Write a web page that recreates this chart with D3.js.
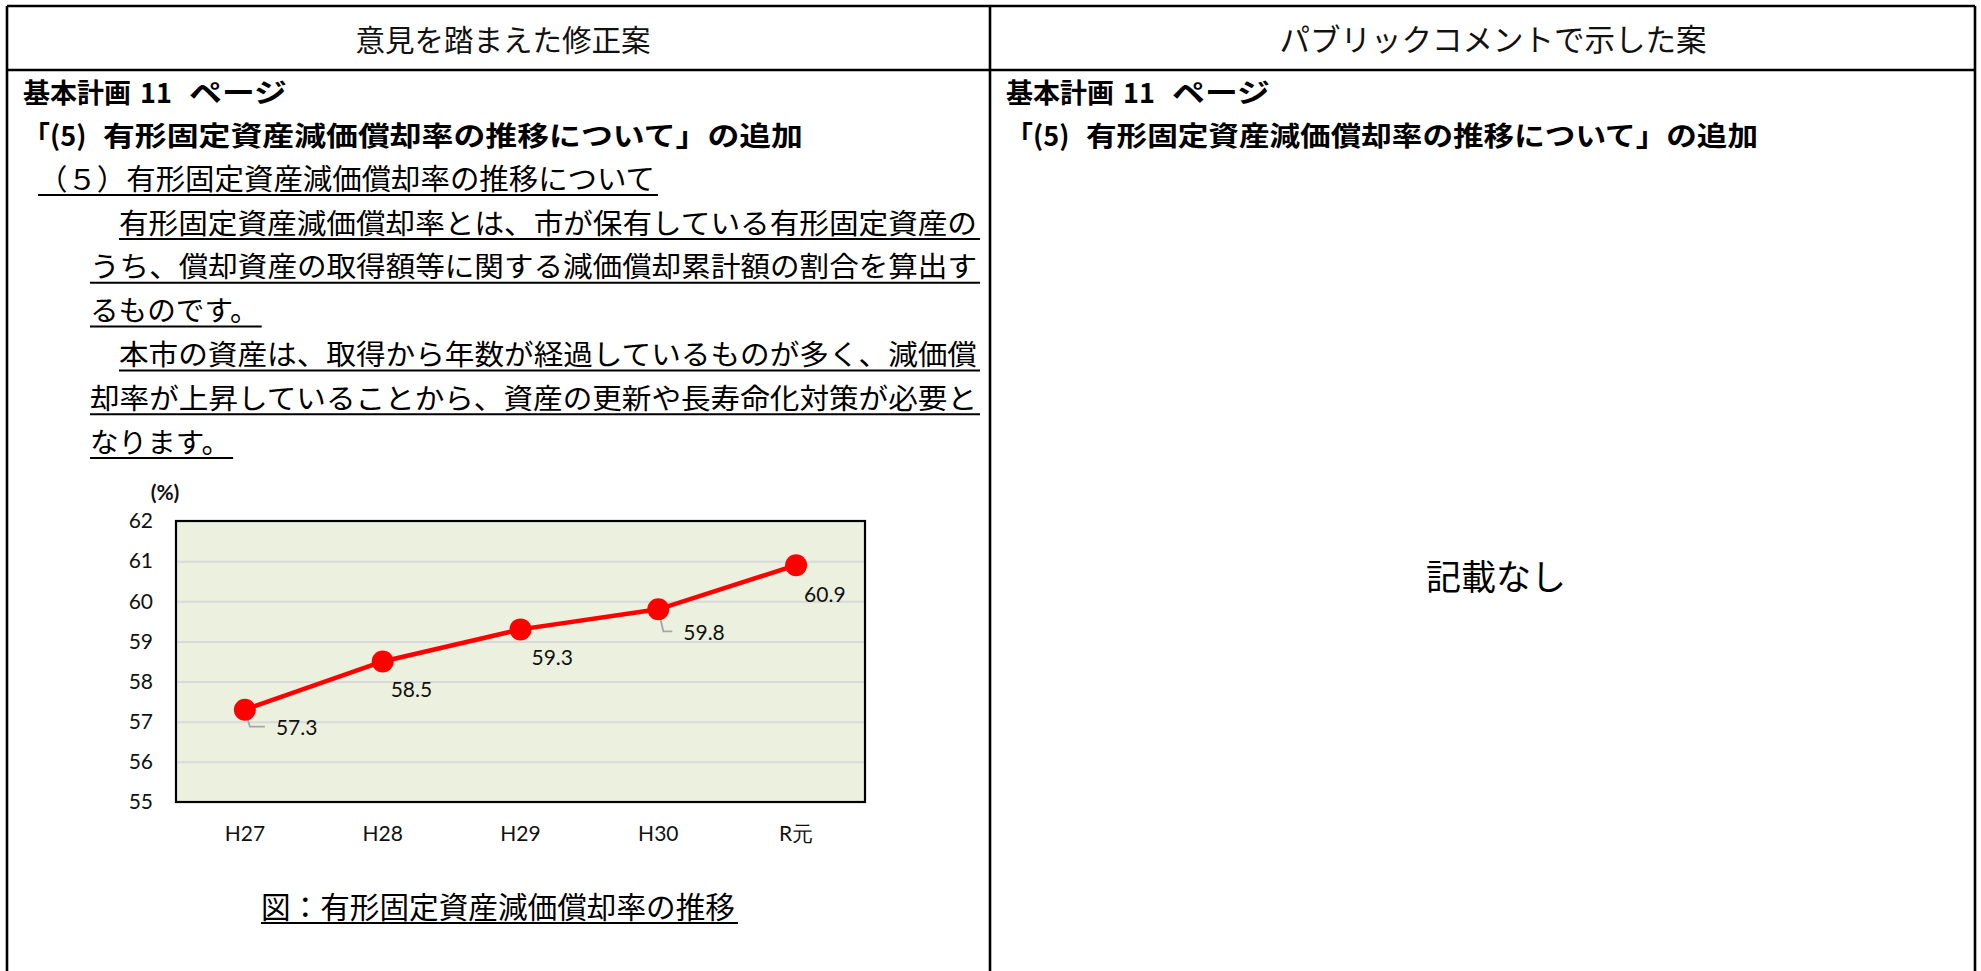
<!DOCTYPE html>
<html><head><meta charset="utf-8">
<script src="https://cdn.jsdelivr.net/npm/d3@7/dist/d3.min.js"></script>
<style>
html,body{margin:0;padding:0;background:#fff;}
svg{display:block;}
</style></head>
<body>
<svg id="c" width="1981" height="971"></svg>
<script>
// ---- data ----
const categories = ["H27", "H28", "H29", "H30", "R元"];
const rateValues = [57.3, 58.5, 59.3, 59.8, 60.9];
const yTicks = [55, 56, 57, 58, 59, 60, 61, 62];
const yUnit = "(%)";
const headerLeft = "意見を踏まえた修正案";
const headerRight = "パブリックコメントで示した案";
const pageRef = ["基本計画", "11", "ページ"];
const addTitle = ["「", "(5)", "有形固定資産減価償却率の推移について」の追加"];
const sectionTitle = "（５）有形固定資産減価償却率の推移について";
const paragraphLines = [
  "有形固定資産減価償却率とは、市が保有している有形固定資産の",
  "うち、償却資産の取得額等に関する減価償却累計額の割合を算出す",
  "るものです。",
  "本市の資産は、取得から年数が経過しているものが多く、減価償",
  "却率が上昇していることから、資産の更新や長寿命化対策が必要と",
  "なります。"
];
const paragraphIndent = [true, false, false, true, false, false];
const caption = "図：有形固定資産減価償却率の推移";
const noEntry = "記載なし";
// label placement offsets (relative to each point), Excel-like manual labels
const labelOffsets = [[31, 17, true], [8, 27, false], [11, 27, false], [25, 22, true], [8, 28, false]];

// ---- drawing ----
const svg = d3.select("#c");
const JP = "'Noto Sans CJK JP', sans-serif";
const NUM = "Lato, 'Noto Sans', sans-serif";

svg.append("rect").attr("width", 1981).attr("height", 971).attr("fill", "#fff");

// table frame
const L = 7, R = 1975, T = 6, HB = 70, MID = 990;
const frame = svg.append("g").attr("stroke", "#000").attr("stroke-width", 2.6);
frame.append("line").attr("x1", L).attr("x2", R).attr("y1", T).attr("y2", T);
frame.append("line").attr("x1", L).attr("x2", R).attr("y1", HB).attr("y2", HB);
frame.append("line").attr("x1", L).attr("x2", L).attr("y1", T).attr("y2", 971);
frame.append("line").attr("x1", R).attr("x2", R).attr("y1", T).attr("y2", 971);
frame.append("line").attr("x1", MID).attr("x2", MID).attr("y1", T).attr("y2", 971);

// headers
svg.append("text").attr("x", 503).attr("y", 38).attr("text-anchor", "middle")
  .attr("dominant-baseline", "central").attr("font-family", JP).attr("font-size", 29.5)
  .attr("fill", "#111").text(headerLeft);
svg.append("text").attr("x", 1493).attr("y", 38).attr("text-anchor", "middle")
  .attr("dominant-baseline", "central").attr("font-family", JP).attr("font-size", 30.5)
  .attr("fill", "#111").text(headerRight);

// bold headings in both columns
function headings(x0, titleLen) {
  const g = svg.append("g").attr("font-family", JP).attr("font-weight", "bold")
    .attr("fill", "#000").attr("dominant-baseline", "central");
  g.append("text").attr("x", x0).attr("y", 91).attr("font-size", 27).text(pageRef[0]);
  g.append("text").attr("x", x0 + 117).attr("y", 91).attr("font-size", 27).text(pageRef[1]);
  g.append("text").attr("x", x0 + 166).attr("y", 91).attr("font-size", 27)
    .attr("textLength", 98).attr("lengthAdjust", "spacingAndGlyphs").text(pageRef[2]);
  g.append("text").attr("x", x0).attr("y", 134).attr("font-size", 27).text(addTitle[0]);
  g.append("text").attr("x", x0 + 27).attr("y", 134).attr("font-size", 27).text(addTitle[1]);
  g.append("text").attr("x", x0 + 80).attr("y", 134).attr("font-size", 27)
    .attr("textLength", titleLen).attr("lengthAdjust", "spacingAndGlyphs").text(addTitle[2]);
}
headings(23, 700);
headings(1006, 672);

// section title + paragraph (underlined)
const body = svg.append("g").attr("font-family", JP).attr("fill", "#000");
function underlined(txt, x, y, size, len) {
  const t = body.append("text").attr("x", x).attr("y", y).attr("font-size", size)
    .attr("dominant-baseline", "central").text(txt);
  if (len) t.attr("textLength", len).attr("lengthAdjust", "spacingAndGlyphs");
  const w = t.node().getComputedTextLength();
  body.append("line").attr("x1", x).attr("x2", x + (len || w) + 3)
    .attr("y1", y + 18).attr("y2", y + 18).attr("stroke", "#000").attr("stroke-width", 2);
}
underlined(sectionTitle, 38, 177, 29, 617);
paragraphLines.forEach((s, i) => {
  const x = paragraphIndent[i] ? 119 : 90;
  const y = 221 + i * 43.8;
  const full = (i === 0 || i === 3) ? 858 : (i === 1 || i === 4) ? 887 : null;
  underlined(s, x, y, 28.6, full);
});

// ---- chart ----
const plot = {left: 176, right: 865, top: 521, bottom: 802};
const x = d3.scaleBand().domain(categories).range([plot.left, plot.right]).padding(0);
const y = d3.scaleLinear().domain([d3.min(yTicks), d3.max(yTicks)]).range([plot.bottom, plot.top]);

svg.append("rect").attr("x", plot.left).attr("y", plot.top)
  .attr("width", plot.right - plot.left).attr("height", plot.bottom - plot.top)
  .attr("fill", "#EBF1DE");

// gridlines
svg.append("g").attr("transform", `translate(${plot.left},0)`)
  .call(d3.axisLeft(y).tickValues(yTicks.slice(1, -1)).tickSize(-(plot.right - plot.left)).tickFormat(""))
  .call(g => g.select(".domain").remove())
  .call(g => g.selectAll("line").attr("stroke", "#D9D9D9").attr("stroke-width", 2));

svg.append("rect").attr("x", plot.left).attr("y", plot.top)
  .attr("width", plot.right - plot.left).attr("height", plot.bottom - plot.top)
  .attr("fill", "none").attr("stroke", "#000").attr("stroke-width", 2.2);

// y axis labels
svg.append("g").attr("transform", `translate(${plot.left},0)`)
  .call(d3.axisLeft(y).tickValues(yTicks).tickSize(0).tickPadding(23).tickFormat(d3.format("d")))
  .call(g => g.select(".domain").remove())
  .call(g => g.selectAll("text").attr("font-family", NUM).attr("font-size", 21).attr("fill", "#111"));

// x axis labels
svg.append("g").attr("transform", `translate(0,${plot.bottom})`)
  .call(d3.axisBottom(x).tickSize(0))
  .call(g => g.select(".domain").remove())
  .call(g => g.selectAll("text").attr("y", 32).attr("dy", "0.35em")
    .attr("font-family", NUM).attr("font-size", 21).attr("fill", "#111"));

// unit label
svg.append("text").attr("x", 165).attr("y", 491).attr("text-anchor", "middle")
  .attr("dominant-baseline", "central").attr("font-family", NUM).attr("font-size", 21)
  .attr("font-weight", "bold").attr("fill", "#111").text(yUnit);

// line
const cx = d => x(d.c) + x.bandwidth() / 2;
const pts = categories.map((c, i) => ({c, v: rateValues[i], i}));
svg.append("path").datum(pts)
  .attr("d", d3.line().x(cx).y(d => y(d.v)))
  .attr("fill", "none").attr("stroke", "#FF0000").attr("stroke-width", 4.5);

// leader lines
pts.forEach(d => {
  const [dx, dy, leader] = labelOffsets[d.i];
  if (!leader) return;
  const px = cx(d), py = y(d.v);
  svg.append("polyline")
    .attr("points", `${px},${py} ${px + 5},${py + dy} ${px + dx - 11},${py + dy}`)
    .attr("fill", "none").attr("stroke", "#A6A6A6").attr("stroke-width", 1.8);
});

svg.append("g").selectAll("circle").data(pts).join("circle")
  .attr("cx", cx).attr("cy", d => y(d.v)).attr("r", 11).attr("fill", "#FF0000");

// data labels
svg.append("g").selectAll("text").data(pts).join("text")
  .attr("x", d => cx(d) + labelOffsets[d.i][0])
  .attr("y", d => y(d.v) + labelOffsets[d.i][1])
  .attr("dominant-baseline", "central")
  .attr("font-family", NUM).attr("font-size", 21).attr("fill", "#111")
  .text(d => d3.format(".1f")(d.v));

// caption
underlined(caption, 261, 905, 29.5, 474);

// right column: no entry
svg.append("text").attr("x", 1496).attr("y", 574).attr("text-anchor", "middle")
  .attr("dominant-baseline", "central").attr("font-family", JP).attr("font-size", 35)
  .attr("fill", "#000").text(noEntry);
</script>
</body></html>
